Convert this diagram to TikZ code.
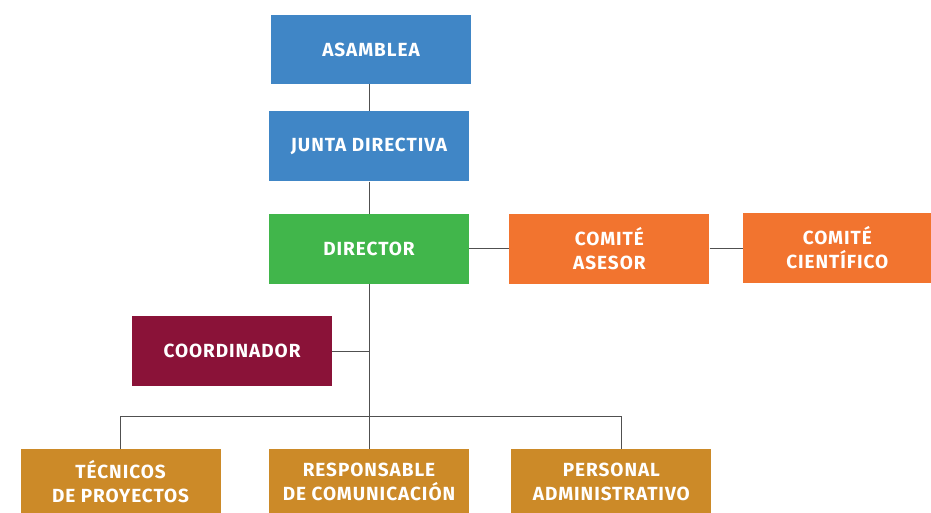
\documentclass[tikz,border=0pt]{standalone}
\usepackage{fontspec}
\setmainfont{Fira Sans}
\usepackage{tikz}
\usetikzlibrary{positioning}

\definecolor{azul}{HTML}{4086C6}
\definecolor{verde}{HTML}{41B64B}
\definecolor{naranja}{HTML}{F2742F}
\definecolor{granate}{HTML}{8A1238}
\definecolor{ocre}{HTML}{CC8A28}
\definecolor{linea}{HTML}{505050}

\begin{document}
\begin{tikzpicture}[x=1pt, y=-1pt,
    box/.style={rectangle, minimum width=200pt, minimum height=70pt, inner sep=0pt, text=white, align=center, font=\bfseries\fontsize{19}{23.5}\selectfont\addfontfeature{LetterSpace=5}},
    link/.style={draw=linea, line width=1pt}]

    \useasboundingbox (0,0) rectangle (931,513);

    % Nodes for the main column
    \node (asamblea) [box, fill=azul, minimum height=69pt] at (371,49.5) {ASAMBLEA};
    \node (junta) [box, fill=azul, below=27pt of asamblea, xshift=-2pt] {JUNTA DIRECTIVA};
    \node (director) [box, fill=verde, below=32pt of junta] {DIRECTOR};

    % Nodes for the committees, to the right of the director
    \node (asesor) [box, fill=naranja, right=40pt of director] {COMITÉ\\ASESOR};
    \node (cientifico) [box, fill=naranja, right=33pt of asesor, minimum width=189pt, yshift=1pt] {COMITÉ\\CIENTÍFICO};

    % Coordinator, hanging off the main line
    \node (coordinador) [box, fill=granate, below=32pt of director, xshift=-137pt] {COORDINADOR};

    % Nodes for the staff below, aligned horizontally (cut by the page edge)
    \node (responsable) [box, fill=ocre, minimum height=65pt, below=165pt of director] {RESPONSABLE\\DE COMUNICACIÓN};
    \node (tecnicos) [box, fill=ocre, minimum height=65pt, left=48pt of responsable] {TÉCNICOS\\DE PROYECTOS};
    \node (personal) [box, fill=ocre, minimum height=65pt, right=42pt of responsable] {PERSONAL\\ADMINISTRATIVO};

    % Draw lines between the boxes
    \draw[link] (asamblea.south -| junta.north) -- (junta);
    \draw[link] (junta) -- (director);
    \draw[link] (director) -- (responsable);
    \draw[link] (director) -- (asesor);
    \draw[link] (asesor.east) -- (cientifico.west |- asesor.east);
    \draw[link] (coordinador.east) -- (coordinador.east -| director.south);
    \draw[link] (tecnicos.north) -- ++(0,-33) -| ([xshift=10pt]personal.north);

\end{tikzpicture}
\end{document}
